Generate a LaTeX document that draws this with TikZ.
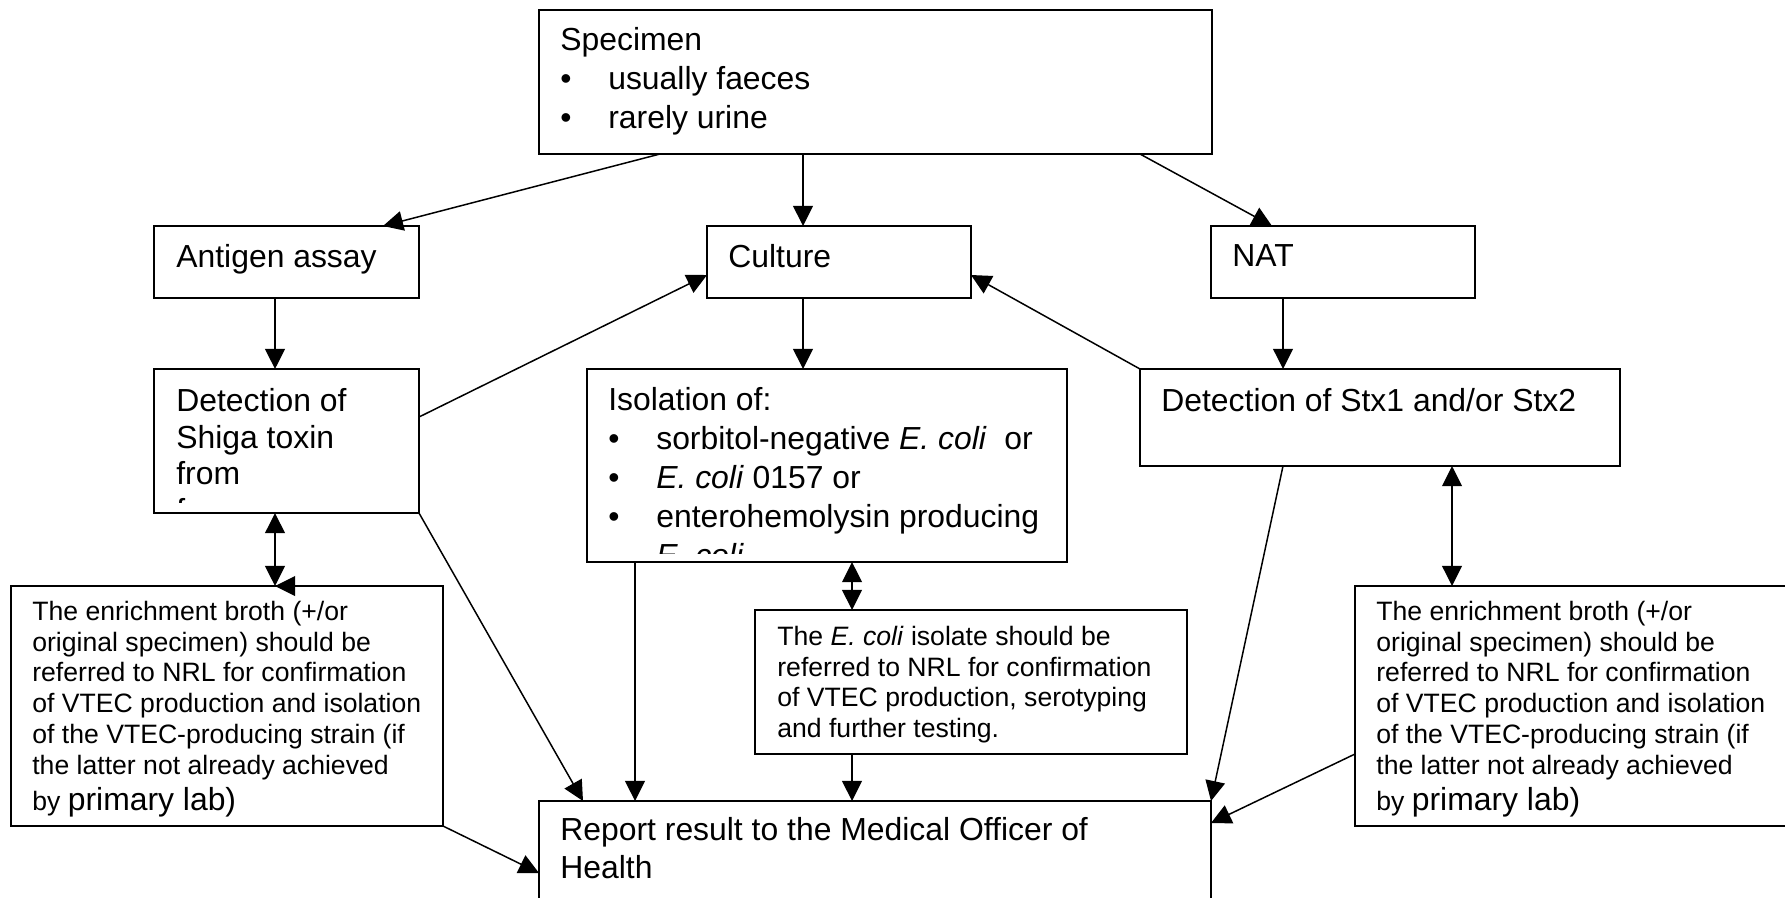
\documentclass[tikz,border=0pt]{standalone}
\usepackage{fontspec}
\setmainfont{Liberation Sans}
\usetikzlibrary{arrows.meta,calc,fit}
\tikzset{box/.style={draw, line width=1.2pt, inner sep=0pt, outer sep=0pt}}
\tikzset{txt/.style={anchor=north west, inner sep=0pt, align=left, font=\fontsize{18.15}{22.19}\selectfont}}
\tikzset{note/.style={anchor=north west, inner sep=0pt, align=left, font=\fontsize{15.14}{17.53}\selectfont}}
\tikzset{arr/.style={-{Triangle[length=11.4pt,width=11.2pt]}, line width=0.85pt}}
\tikzset{arrB/.style={{Triangle[length=11.4pt,width=11.2pt]}-{Triangle[length=11.4pt,width=11.2pt]}, line width=0.85pt}}
\newcommand{\bul}{\makebox[27.3pt][l]{\textbullet}}
\newcommand{\ecoli}{\textit{E. coli}}
\newcommand{\primlab}{{\fontsize{18.15}{17.53}\selectfont primary lab)}}

\begin{document}
\begin{tikzpicture}[x=0.02cm,y=-0.02cm]
\useasboundingbox (0,0) rectangle (1785,897);
\clip (0,0) rectangle (1785,897);
% boxes
\node[box, fit={(539,10) (1212,154)}] (spec) {};
\node[box, fit={(154,226) (419,298)}] (ant) {};
\node[box, fit={(707,226) (971,298)}] (cult) {};
\node[box, fit={(1211,226) (1475,298)}] (nat) {};
\node[box, fit={(154,369) (419,513)}] (det) {};
\node[box, fit={(587,369) (1067,562)}] (iso) {};
\node[box, fit={(1140,369) (1620,466)}] (stx) {};
\node[box, fit={(11,586) (443,826)}] (lnote) {};
\node[box, fit={(755,610) (1187,754)}] (mnote) {};
\node[box, fit={(1355,586) (1787,826)}] (rnote) {};
\node[box, fit={(539,801) (1211,930)}] (rep) {};
% texts
\node[txt] (spec-t) at (560,26.7) {Specimen\\ \bul usually faeces\\ \bul rarely urine};
\node[txt] (ant-t) at (176,243.7) {Antigen assay};
\node[txt] (cult-t) at (728,243.7) {Culture};
\node[txt] (nat-t) at (1232,243.7) {NAT};
\begin{scope}
\clip (154,369) rectangle (419,502);
\node[txt, font=\fontsize{18.15}{20.8}\selectfont] (det-t) at (176,388.4) {Detection of\\ Shiga toxin\\ from\\ faeces};
\end{scope}
\begin{scope}
\clip (587,369) rectangle (1067,553);
\node[txt] (iso-t) at (608,386.7) {Isolation of:\\ \bul sorbitol-negative \ecoli\ \ or\\ \bul \ecoli\ 0157 or\\ \bul enterohemolysin producing\\ \hspace*{27.3pt}\ecoli};
\end{scope}
\node[txt] (stx-t) at (1161,387.7) {Detection of Stx1 and/or Stx2};
\node[note] (lnote-t) at (32,600.6) {The enrichment broth (+/or\\ original specimen) should be\\ referred to NRL for confirmation\\ of VTEC production and isolation\\ of the VTEC-producing strain (if\\ the latter not already achieved\\[3pt] by \primlab};
\node[note] (mnote-t) at (777,625.6) {The \ecoli\ isolate should be\\ referred to NRL for confirmation\\ of VTEC production, serotyping\\ and further testing.};
\node[note] (rnote-t) at (1376,600.6) {The enrichment broth (+/or\\ original specimen) should be\\ referred to NRL for confirmation\\ of VTEC production and isolation\\ of the VTEC-producing strain (if\\ the latter not already achieved\\[3pt] by \primlab};
\node[txt, font=\fontsize{18.15}{21.6}\selectfont] (rep-t) at (560,816.7) {Report result to the Medical Officer of\\ Health};
% connectors
\draw[arr] ($(spec.south west)+(121,0)$) -- ($(ant.north west)+(229,0)$);
\draw[arr] ($(spec.south west)+(264,0)$) -- ($(cult.north west)+(96,0)$);
\draw[arr] ($(spec.south east)+(-72,0)$) -- ($(nat.north west)+(61,0)$);
\draw[arr] ($(ant.south west)+(121,0)$) -- ($(det.north west)+(121,0)$);
\draw[arr] ($(cult.south west)+(96,0)$) -- ($(iso.north west)+(216,0)$);
\draw[arr] ($(nat.south west)+(72,0)$) -- ($(stx.north west)+(143,0)$);
\draw[arr] ($(det.north east)+(0,48)$) -- ($(cult.north west)+(0,49)$);
\draw[arr] (stx.north west) -- ($(cult.north east)+(0,49)$);
\draw[arrB] ($(det.south west)+(121,0)$) -- ($(lnote.north west)+(264,0)$);
\draw[arr] ($(lnote.north west)+(290,0)$) -- ($(lnote.north west)+(264,0)$);
\draw[arrB] ($(iso.south west)+(265,0)$) -- ($(mnote.north west)+(97,0)$);
\draw[arrB] ($(stx.south west)+(312,0)$) -- ($(rnote.north west)+(97,0)$);
\draw[arr] (det.south east) -- ($(rep.north west)+(44,0)$);
\draw[arr] ($(iso.south west)+(48,0)$) -- ($(rep.north west)+(96,0)$);
\draw[arr] ($(mnote.south west)+(97,0)$) -- ($(rep.north west)+(313,0)$);
\draw[arr] (lnote.south east) -- ($(rep.north west)+(0,72)$);
\draw[arr] ($(stx.south west)+(143,0)$) -- (rep.north east);
\draw[arr] ($(rnote.north west)+(0,168)$) -- ($(rep.north east)+(0,22)$);
\end{tikzpicture}
\end{document}
